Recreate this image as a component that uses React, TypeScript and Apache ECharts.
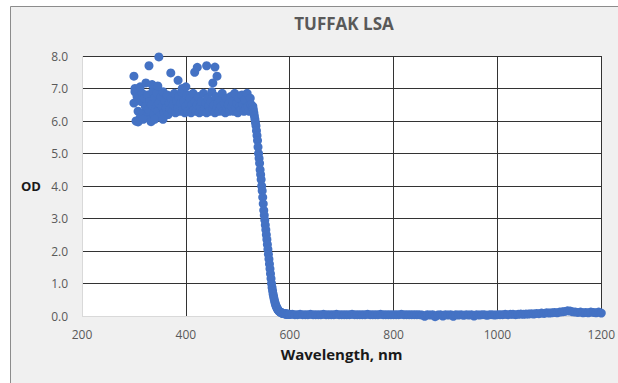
import React, { useEffect, useRef } from "react";
import * as echarts from "echarts";

const TITLE = "TUFFAK LSA";
const X_NAME = "Wavelength, nm";
const Y_NAME = "OD";
const xTicks = [200, 400, 600, 800, 1000, 1200];
const yTicks = [0, 1, 2, 3, 4, 5, 6, 7, 8];

// Plateau region, sampled every 2 nm from 300 nm
const plateauStart = 300;
const plateauStep = 2;
const plateauOd = [
  6.55, 6.9, 6.0, 6.75, 6.3, 6.95, 6.1, 6.6, 6.85, 6.25,
  6.7, 6.45, 6.15, 6.8, 6.35, 6.6, 6.05, 6.5, 6.9, 6.2,
  6.7, 6.4, 6.85, 6.3, 6.55, 6.15, 6.75, 6.45, 6.9, 6.25,
  6.6, 6.4, 6.8, 6.2, 6.55, 6.35, 6.7, 6.3, 6.5, 6.85,
  6.25, 6.6, 6.4, 6.75, 6.3, 6.55, 6.9, 6.35, 6.6, 6.25,
  6.45, 6.8, 6.3, 6.55, 6.7, 6.25, 6.5, 6.85, 6.35, 6.6,
  6.3, 6.5, 6.75, 6.25, 6.45, 6.6, 6.3, 6.85, 6.4, 6.55,
  6.25, 6.7, 6.45, 6.3, 6.6, 6.9, 6.35, 6.5, 6.25, 6.75,
  6.4, 6.55, 6.3, 6.65, 6.45, 6.85, 6.3, 6.55, 6.25, 6.7,
  6.4, 6.5, 6.3, 6.75, 6.45, 6.6, 6.3, 6.85, 6.4, 6.55,
  6.25, 6.7, 6.45, 6.35, 6.8, 6.5, 6.3, 6.65, 6.4, 6.85,
  6.45, 6.3, 6.7, 6.5, 6.4,
];

// Scattered outlying readings in the plateau
const outlierWl = [300, 302, 308, 312, 318, 323, 329, 333, 335, 340, 346, 348, 356, 371, 385, 393, 400, 417, 422, 440, 452, 456, 460];
const outlierOd = [7.38, 7.0, 5.97, 7.05, 6.05, 7.17, 7.7, 5.98, 7.12, 6.05, 7.08, 7.97, 6.05, 7.48, 7.25, 7.0, 7.05, 7.5, 7.65, 7.7, 7.17, 7.66, 7.38];

// Absorption edge, every 1 nm from 529 nm
const edgeStart = 529;
const edgeStep = 1;
const edgeOd = [
  6.45, 6.35, 6.25, 6.15, 6.05, 5.95, 5.85, 5.7, 5.55, 5.4,
  5.2, 5.0, 4.85, 4.7, 4.5, 4.35, 4.2, 4.0, 3.85, 3.65,
  3.45, 3.25, 3.1, 2.95, 2.8, 2.65, 2.5, 2.35, 2.2, 2.05,
  1.9, 1.75, 1.6, 1.45, 1.3, 1.15, 1.0, 0.88, 0.78, 0.68,
  0.6, 0.52, 0.45, 0.39, 0.34, 0.3, 0.26, 0.23, 0.2, 0.18,
  0.16, 0.14, 0.13, 0.12, 0.11, 0.1, 0.09, 0.09, 0.08, 0.08,
  0.07, 0.07, 0.07, 0.06, 0.06, 0.06, 0.06, 0.05, 0.05, 0.05,
  0.05, 0.05,
];

// Transmission tail, every 5 nm from 605 nm
const tailStart = 605;
const tailStep = 5;
const tailOd = [
  0.05, 0.04, 0.04, 0.05, 0.04, 0.04, 0.04, 0.05, 0.04, 0.04,
  0.04, 0.04, 0.05, 0.04, 0.04, 0.04, 0.04, 0.05, 0.04, 0.04,
  0.04, 0.04, 0.04, 0.05, 0.04, 0.04, 0.04, 0.04, 0.04, 0.05,
  0.04, 0.04, 0.04, 0.04, 0.05, 0.04, 0.04, 0.04, 0.04, 0.04,
  0.04, 0.04, 0.05, 0.04, 0.04, 0.04, 0.04, 0.04, 0.04,
  0.04, 0.03, -0.01, 0.04, 0.03, 0.04, -0.02, 0.03, 0.04, 0.0,
  0.04, 0.03, 0.04, -0.01, 0.04, 0.03, 0.04, 0.02, 0.04, 0.03,
  0.04, 0.0, 0.04, 0.03, 0.04, 0.04, 0.02, 0.04, 0.04, 0.03,
  0.04,
  0.04, 0.04, 0.05, 0.04, 0.05, 0.05, 0.04, 0.05, 0.06, 0.05,
  0.06, 0.06, 0.07, 0.06, 0.08, 0.07, 0.09, 0.08, 0.1, 0.09,
  0.1, 0.11, 0.1, 0.12, 0.13, 0.14, 0.16, 0.15, 0.13, 0.12,
  0.11, 0.12, 0.1, 0.11, 0.1, 0.12, 0.11, 0.1, 0.12, 0.09,
];

function sampled(start: number, step: number, values: number[]): number[][] {
  return values.map((v, i) => [start + i * step, v]);
}

export default function App() {
  const ref = useRef<HTMLDivElement>(null);

  useEffect(() => {
    if (!ref.current) return;
    const chart = echarts.init(ref.current, undefined, { renderer: "svg" });
    const data = [
      ...sampled(plateauStart, plateauStep, plateauOd),
      ...outlierWl.map((w, i) => [w, outlierOd[i]]),
      ...sampled(edgeStart, edgeStep, edgeOd),
      ...sampled(tailStart, tailStep, tailOd),
    ];
    const font = "'Open Sans', 'Liberation Sans', sans-serif";
    const dark = "#333333";
    const light = "#d9d9d9";
    chart.setOption({
      animation: false,
      backgroundColor: "#ffffff",
      textStyle: { fontFamily: font },
      graphic: [
        {
          type: "rect",
          z: -10,
          shape: { x: 10.5, y: 6.5, width: 700, height: 500 },
          style: { fill: "#f0f0f0", stroke: "#8c8c8c", lineWidth: 1 },
        },
      ],
      title: {
        text: TITLE,
        left: 339,
        top: 10,
        textAlign: "center",
        textStyle: { fontFamily: font, fontSize: 17, fontWeight: "bold", color: "#595959" },
      },
      grid: {
        left: 82,
        right: 16,
        top: 56,
        bottom: 67,
        show: true,
        backgroundColor: "#ffffff",
        borderWidth: 0,
      },
      xAxis: {
        type: "value",
        min: xTicks[0],
        max: xTicks[xTicks.length - 1],
        interval: xTicks[1] - xTicks[0],
        name: X_NAME,
        nameLocation: "middle",
        nameGap: 30,
        nameTextStyle: { fontFamily: font, fontSize: 15, fontWeight: "bold", color: "#1a1a1a" },
        axisLine: { show: false },
        axisTick: { show: false },
        axisLabel: {
          color: "#595959",
          fontSize: 12,
          margin: 12,
          fontFamily: font,
          formatter: (v: number) => String(v),
        },
        splitLine: {
          show: true,
          lineStyle: { color: xTicks.map((_, i) => (i === 0 ? light : dark)), width: 1 },
        },
      },
      yAxis: {
        type: "value",
        min: yTicks[0],
        max: yTicks[yTicks.length - 1],
        interval: yTicks[1] - yTicks[0],
        name: Y_NAME,
        nameLocation: "middle",
        nameRotate: 0,
        nameGap: 41,
        nameTextStyle: { fontFamily: font, fontSize: 13, fontWeight: "bold", color: "#1a1a1a" },
        axisLine: { show: false },
        axisTick: { show: false },
        axisLabel: {
          color: "#595959",
          fontSize: 12,
          margin: 14,
          fontFamily: font,
          formatter: (v: number) => v.toFixed(1),
        },
        splitLine: {
          show: true,
          lineStyle: { color: yTicks.map((_, i) => (i === 0 ? light : dark)), width: 1 },
        },
      },
      series: [
        {
          type: "scatter",
          data,
          symbol: "circle",
          symbolSize: 9,
          clip: false,
          itemStyle: { color: "#4472C4", opacity: 1 },
        },
      ],
    });
    return () => chart.dispose();
  }, []);

  return (
    <div
      ref={ref}
      style={{ position: "fixed", left: 0, top: 0, width: 618, height: 383 }}
    />
  );
}
